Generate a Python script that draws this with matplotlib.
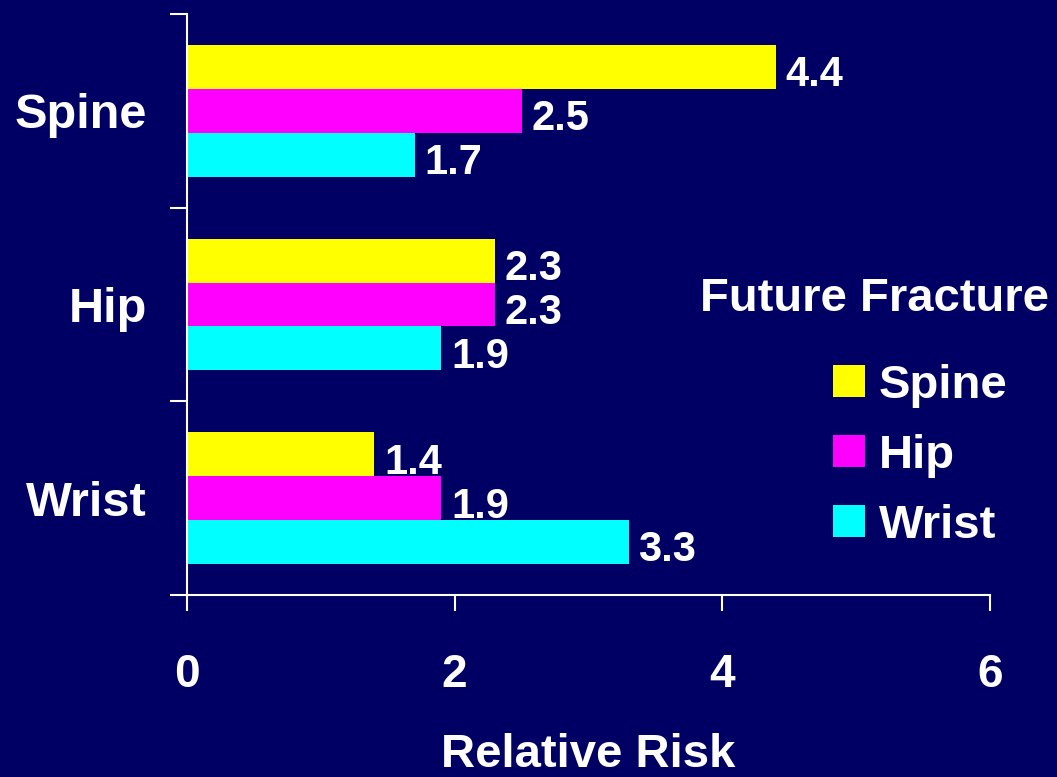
import matplotlib
matplotlib.use('Agg')
import matplotlib.pyplot as plt
from matplotlib.patches import Patch

plt.rcParams['font.family'] = ['Liberation Sans', 'DejaVu Sans']
plt.rcParams['font.weight'] = 'bold'

# prior fracture site, and relative risk of a future fracture at each site
prior_sites = ['Spine', 'Hip', 'Wrist']
future_spine = [4.4, 2.3, 1.4]
future_hip = [2.5, 2.3, 1.9]
future_wrist = [1.7, 1.9, 3.3]
x_ticks = [0, 2, 4, 6]

bg = '#000064'
series = [
    ('Spine', future_spine, '#FFFF00', 0.227),
    ('Hip', future_hip, '#FF00FF', 0.0),
    ('Wrist', future_wrist, '#00FFFF', -0.227),
]

fig = plt.figure(figsize=(10.57, 7.77), dpi=100, facecolor=bg)
ax = fig.add_axes([0.1769, 0.2342, 0.7597, 0.7478])
ax.set_facecolor(bg)

centers = [2.5, 1.5, 0.5]
for name, vals, col, off in series:
    ys = [c + off for c in centers]
    ax.barh(ys, vals, height=0.227, color=col, label=name)
    for y, v in zip(ys, vals):
        ax.annotate(f'{v:.1f}', (v, y), xytext=(7, -6), textcoords='offset points',
                    va='center', ha='left', color='white', fontsize=30,
                    fontweight='bold')

ax.set_xlim(0, 6)
ax.set_ylim(0, 3)
ax.set_xticks(x_ticks)
ax.set_xticklabels([str(t) for t in x_ticks])
ax.set_yticks(centers)
ax.set_yticklabels(prior_sites)
ax.set_yticks([0, 1, 2, 3], minor=True)

ax.tick_params(axis='x', colors='white', labelsize=33, length=11.5, width=1.5,
               pad=30, direction='out')
ax.tick_params(axis='y', which='major', colors='white', labelsize=35, length=0,
               pad=29)
ax.tick_params(axis='y', which='minor', colors='white', length=12, width=1.5)
for lab in ax.get_xticklabels() + ax.get_yticklabels():
    lab.set_fontweight('bold')

for side in ['top', 'right']:
    ax.spines[side].set_visible(False)
for side in ['left', 'bottom']:
    ax.spines[side].set_color('white')
    ax.spines[side].set_linewidth(1.5)

ax.set_xlabel('Relative Risk', color='white', fontsize=34, fontweight='bold',
              labelpad=26)

fig.text(0.662, 0.615, 'Future Fracture', color='white', fontsize=34,
         fontweight='bold', va='center', ha='left')
handles = [Patch(facecolor=c, label=n) for n, _, c, _ in series]
leg = fig.legend(handles=handles, loc='upper left', bbox_to_anchor=(0.788, 0.532),
                 frameon=False, fontsize=34, handlelength=0.67, handleheight=0.67,
                 handletextpad=0.3, labelspacing=0.55, borderpad=0,
                 borderaxespad=0)
for t in leg.get_texts():
    t.set_color('white')
    t.set_fontweight('bold')

fig.savefig('out.png', dpi=100, facecolor=bg)
